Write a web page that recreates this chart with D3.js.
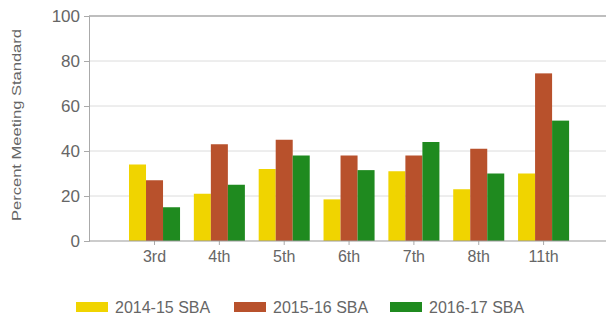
<!DOCTYPE html>
<html><head><meta charset="utf-8">
<script src="https://cdn.jsdelivr.net/npm/d3@7"></script>
<style>body{margin:0;background:#fff}svg{display:block}text{font-family:"Liberation Sans",Arial,sans-serif;fill:#666}</style>
</head><body><svg id="c" width="606" height="318"></svg>
<script>
const categories = ["3rd","4th","5th","6th","7th","8th","11th"];
const seriesNames = ["2014-15 SBA","2015-16 SBA","2016-17 SBA"];
const sba1415 = [34, 21, 32, 18.5, 31, 23, 30];
const sba1516 = [27, 43, 45, 38, 38, 41, 74.5];
const sba1617 = [15, 25, 38, 31.5, 44, 30, 53.5];
const colors = ["#f0d400","#b8512c","#1f8a1f"];
const yTicks = [0,20,40,60,80,100];
const yLabel = "Percent Meeting Standard";

const seriesVals = [sba1415, sba1516, sba1617];
const svg = d3.select("#c");
const y = d3.scaleLinear().domain([0,100]).range([241,16]);
const x = d3.scaleBand().domain(categories).range([122.1,576]).padding(0);
const step = x.bandwidth();
const x1 = d3.scaleBand().domain(seriesNames).range([6.9, step-6.9]).padding(0);

// gridlines
svg.append("g").selectAll("line").data(yTicks.filter(d=>d>0)).join("line")
  .attr("x1",89).attr("x2",606).attr("y1",d=>y(d)).attr("y2",d=>y(d))
  .attr("stroke",d=>d===100?"#a8a8a8":"#dcdcdc").attr("stroke-width",d=>d===100?1.5:1);

// bars
const g = svg.append("g");
seriesVals.forEach((vals,si)=>{
  g.append("g").selectAll("rect").data(categories).join("rect")
    .attr("x",(c)=>x(c)+x1(seriesNames[si]))
    .attr("width",x1.bandwidth())
    .attr("y",(c,i)=>y(vals[i]))
    .attr("height",(c,i)=>y(0)-y(vals[i]))
    .attr("fill",colors[si]);
});

// y axis
const ya = svg.append("g").attr("transform","translate(89,0)")
  .call(d3.axisLeft(y).tickValues(yTicks).tickSize(5).tickPadding(4));
ya.select(".domain").attr("stroke","#aaa");
ya.selectAll(".tick line").attr("stroke","#aaa");
ya.selectAll("text").style("font-size","17px").attr("fill","#666");

// x axis
const xa = svg.append("g").attr("transform","translate(0,241)")
  .call(d3.axisBottom(x).tickSize(4).tickPadding(6));
xa.select(".domain").remove();
xa.append("line").attr("x1",89).attr("x2",606).attr("stroke","#999").attr("stroke-width",1.2);
xa.selectAll(".tick line").attr("stroke","#aaa");
xa.selectAll("text").style("font-size","16px").attr("fill","#666");

// y label
svg.append("text").attr("transform","translate(21,125) rotate(-90)")
  .attr("text-anchor","middle").style("font-size","13px").attr("fill","#555")
  .attr("textLength",192).attr("lengthAdjust","spacingAndGlyphs").text(yLabel);

// legend
const legX = [76, 234, 390];
const leg = svg.append("g");
seriesNames.forEach((s,i)=>{
  leg.append("rect").attr("x",legX[i]).attr("y",302).attr("width",32).attr("height",10).attr("fill",colors[i]);
  leg.append("text").attr("x",legX[i]+39).attr("y",313).style("font-size","16px").attr("fill","#666").text(s);
});
</script></body></html>
